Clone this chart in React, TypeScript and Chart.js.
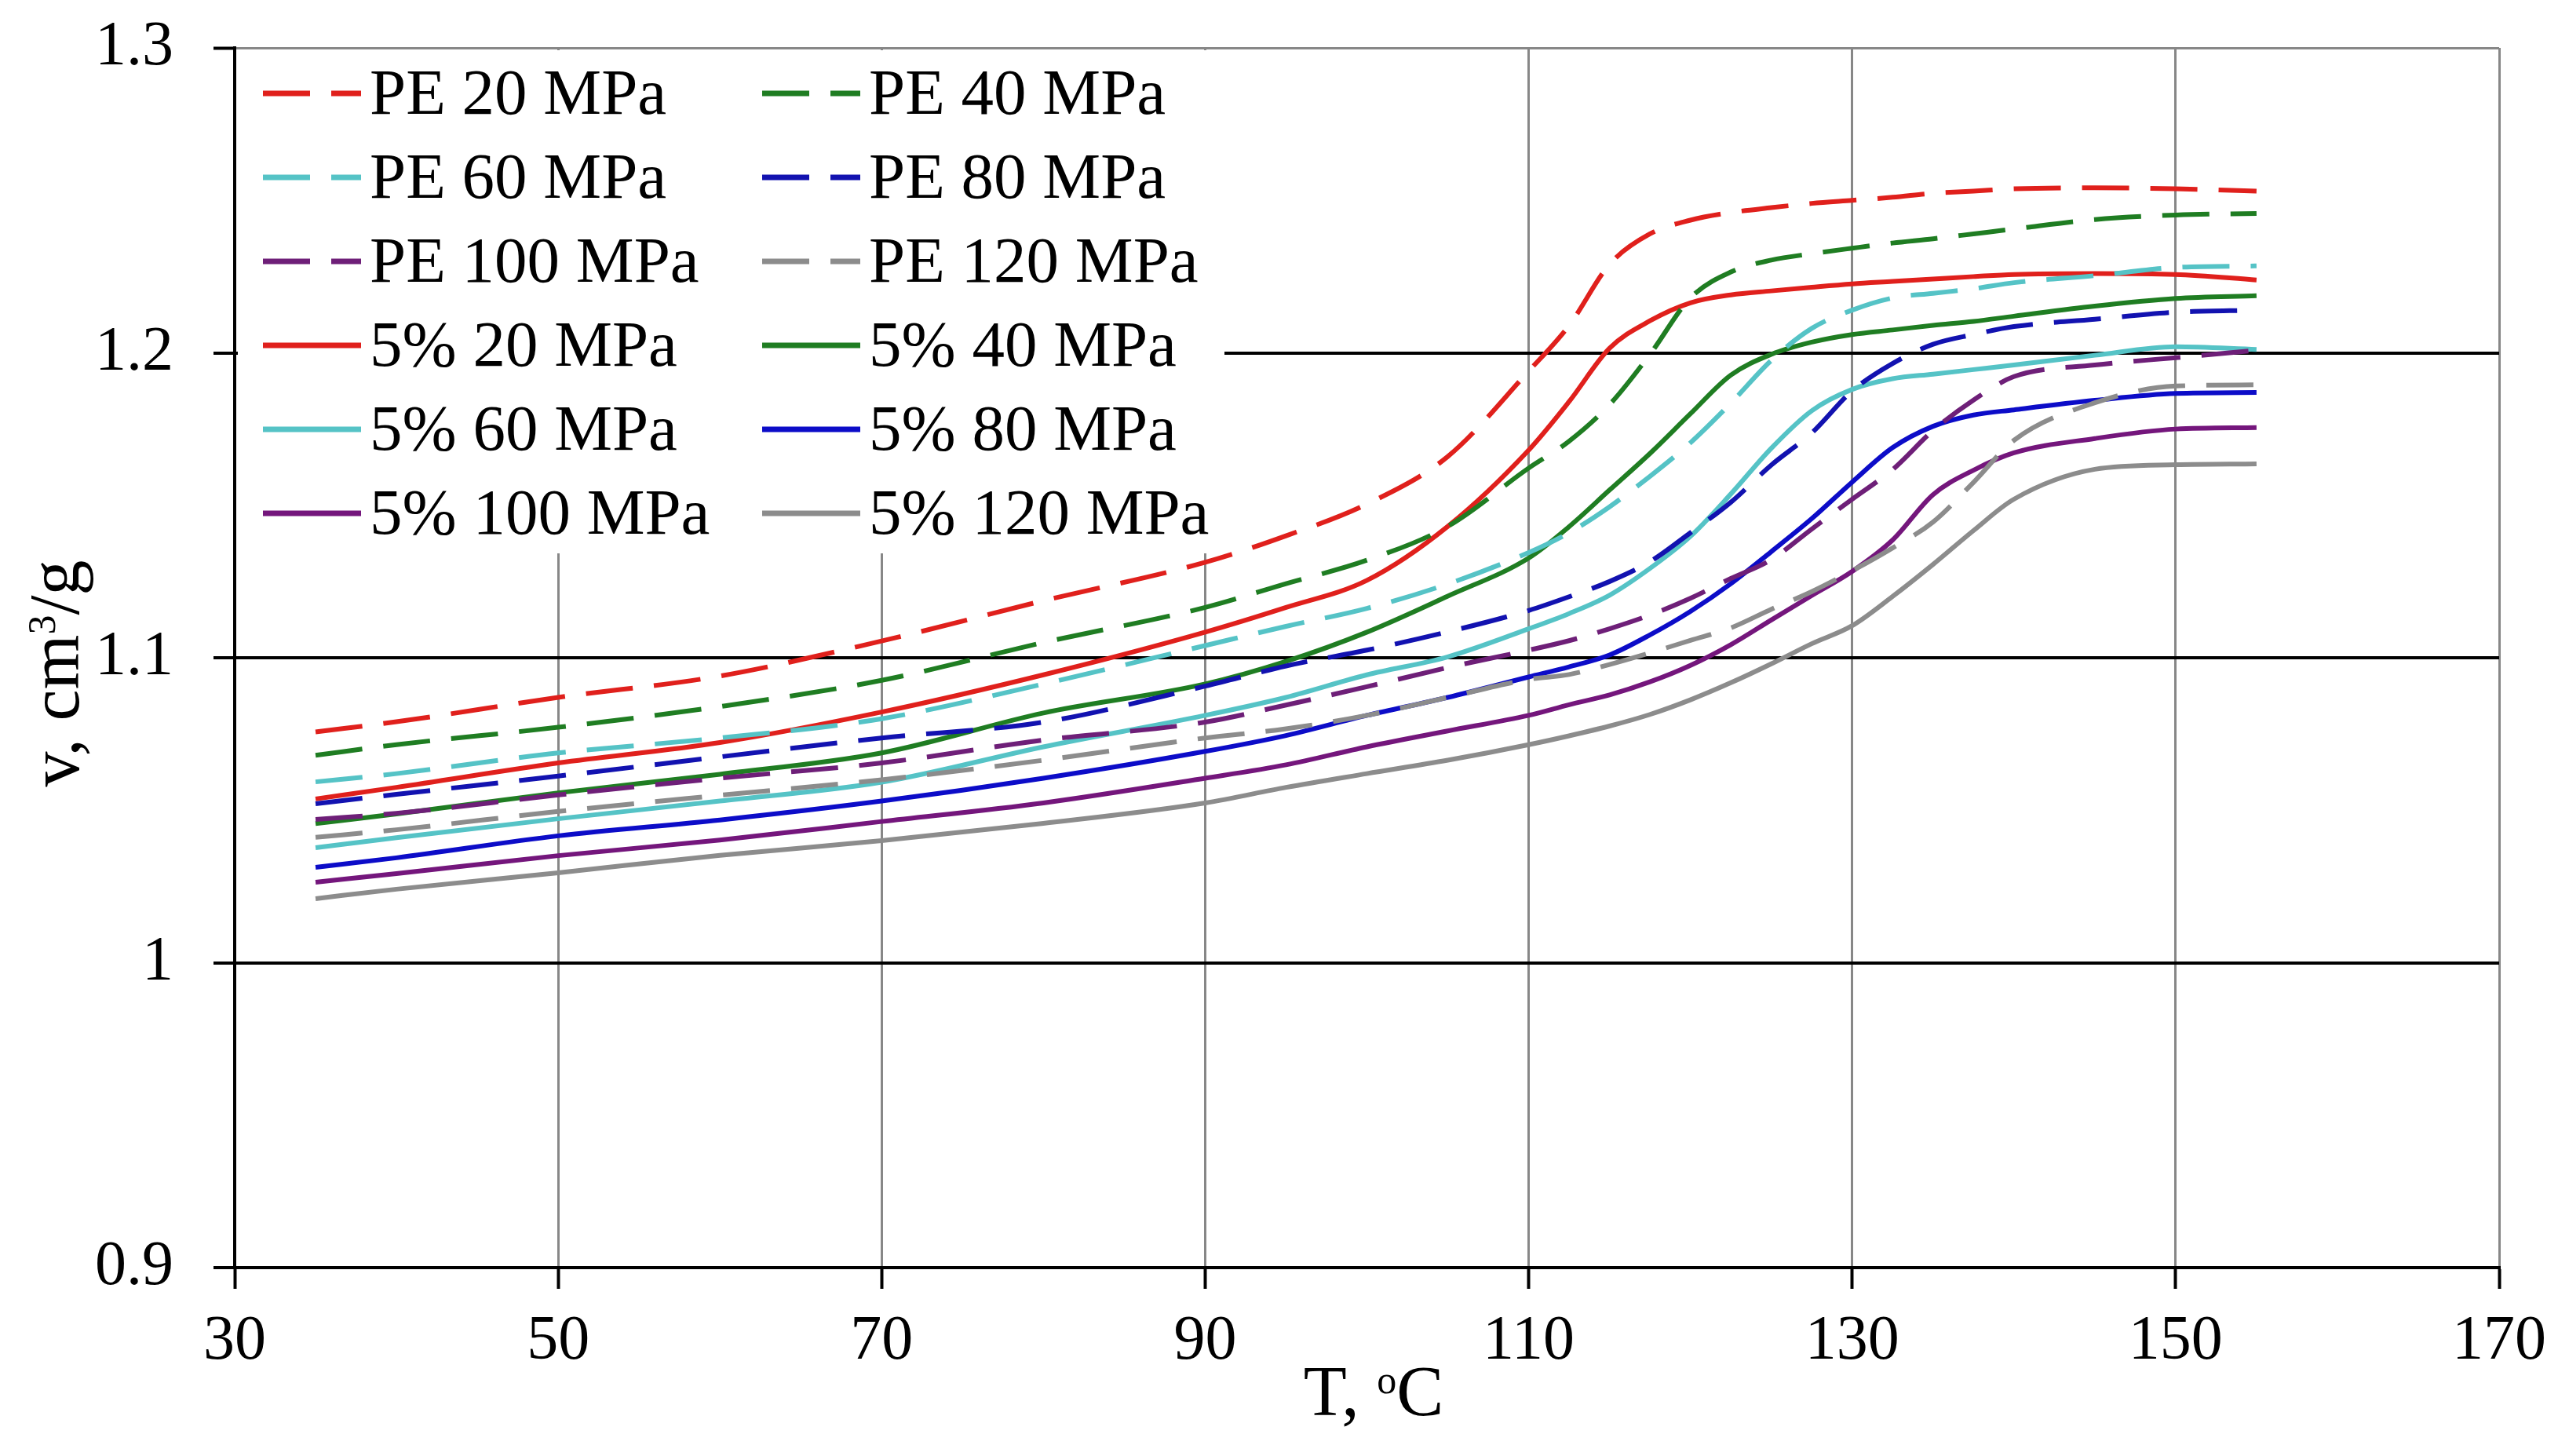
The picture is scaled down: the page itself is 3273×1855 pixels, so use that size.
import React, { useEffect, useRef } from 'react';
import { Chart, registerables } from 'chart.js';

Chart.register(...registerables);

// Temperature, °C (shared by every curve)
const temps = [35, 40, 50, 60, 70, 80, 90, 95, 100, 105, 110, 112.5, 115, 117.5, 120, 122.5, 125, 127.5, 130, 132.5, 135, 137.5, 140, 145, 150, 155];

// Specific volume, cm3/g — neat PE
const pe20 = [1.0757, 1.079, 1.087, 1.094, 1.1055, 1.1187, 1.1313, 1.14, 1.1504, 1.166, 1.194, 1.209, 1.229, 1.239, 1.2435, 1.246, 1.2476, 1.249, 1.25, 1.251, 1.2523, 1.253, 1.2538, 1.2541, 1.2538, 1.253];
const pe40 = [1.068, 1.0715, 1.0772, 1.084, 1.0926, 1.105, 1.1165, 1.1243, 1.132, 1.1431, 1.1622, 1.171, 1.183, 1.1995, 1.218, 1.2265, 1.2304, 1.2325, 1.2343, 1.236, 1.2374, 1.239, 1.2406, 1.2437, 1.2452, 1.2457];
const pe60 = [1.0593, 1.062, 1.0688, 1.0737, 1.08, 1.0914, 1.104, 1.1103, 1.1162, 1.1242, 1.1345, 1.141, 1.1495, 1.1595, 1.1705, 1.1835, 1.1975, 1.208, 1.214, 1.218, 1.2195, 1.221, 1.223, 1.2253, 1.228, 1.2285];
const pe80 = [1.0521, 1.0552, 1.0612, 1.0675, 1.0737, 1.0789, 1.0907, 1.0973, 1.1025, 1.1085, 1.1155, 1.12, 1.125, 1.1315, 1.141, 1.151, 1.1632, 1.1737, 1.1875, 1.1965, 1.2028, 1.206, 1.2086, 1.211, 1.2133, 1.214];
const pe100 = [1.047, 1.049, 1.055, 1.0605, 1.0655, 1.073, 1.0789, 1.0845, 1.0905, 1.0968, 1.1025, 1.1056, 1.1095, 1.114, 1.1195, 1.126, 1.1322, 1.1422, 1.152, 1.1617, 1.1745, 1.1845, 1.1922, 1.196, 1.1984, 1.2008];
const pe120 = [1.0411, 1.0436, 1.0496, 1.0549, 1.06, 1.0664, 1.0737, 1.0767, 1.0811, 1.087, 1.0929, 1.0945, 1.0978, 1.1016, 1.1057, 1.1098, 1.1159, 1.1217, 1.1285, 1.136, 1.1445, 1.1575, 1.1713, 1.1836, 1.1891, 1.1895];

// Specific volume, cm3/g — 5% composite
const c20 = [1.0537, 1.0575, 1.0655, 1.0722, 1.0822, 1.0944, 1.1084, 1.1165, 1.1254, 1.1431, 1.1681, 1.184, 1.2015, 1.2105, 1.2164, 1.219, 1.2203, 1.2215, 1.2226, 1.2234, 1.2242, 1.225, 1.2257, 1.226, 1.2257, 1.2239];
const c40 = [1.0456, 1.0488, 1.0557, 1.0618, 1.0688, 1.0819, 1.0914, 1.0988, 1.1084, 1.1202, 1.1327, 1.143, 1.155, 1.167, 1.18, 1.1927, 1.1995, 1.2035, 1.206, 1.2075, 1.209, 1.2103, 1.212, 1.2153, 1.2178, 1.2187];
const c60 = [1.0377, 1.041, 1.0472, 1.053, 1.0592, 1.0708, 1.0811, 1.087, 1.0944, 1.1003, 1.1095, 1.1145, 1.1205, 1.1293, 1.1398, 1.1537, 1.1687, 1.181, 1.188, 1.1915, 1.193, 1.1945, 1.196, 1.1992, 1.202, 1.2011];
const c80 = [1.0313, 1.0344, 1.0416, 1.0468, 1.053, 1.0605, 1.0693, 1.0745, 1.0811, 1.087, 1.0937, 1.097, 1.1009, 1.1075, 1.1152, 1.1243, 1.1348, 1.1456, 1.1576, 1.1689, 1.1759, 1.1796, 1.1813, 1.1844, 1.1867, 1.187];
const c100 = [1.0264, 1.0292, 1.0351, 1.0402, 1.0463, 1.0524, 1.0605, 1.0649, 1.0708, 1.076, 1.0811, 1.0846, 1.0878, 1.0921, 1.0975, 1.1043, 1.1124, 1.1204, 1.1283, 1.1386, 1.1535, 1.1615, 1.1672, 1.1719, 1.175, 1.1755];
const c120 = [1.021, 1.0241, 1.0295, 1.0352, 1.04, 1.0457, 1.0524, 1.0575, 1.062, 1.0664, 1.0715, 1.0744, 1.0776, 1.0814, 1.0862, 1.0918, 1.098, 1.1046, 1.1105, 1.1201, 1.1306, 1.1417, 1.152, 1.1618, 1.1633, 1.1636];

const seriesLabels = [
  'PE 20 MPa', 'PE 40 MPa', 'PE 60 MPa', 'PE 80 MPa', 'PE 100 MPa', 'PE 120 MPa',
  '5% 20 MPa', '5% 40 MPa', '5% 60 MPa', '5% 80 MPa', '5% 100 MPa', '5% 120 MPa',
];
const seriesValues = [pe20, pe40, pe60, pe80, pe100, pe120, c20, c40, c60, c80, c100, c120];

const xTicks = [30, 50, 70, 90, 110, 130, 150, 170];
const yTicks = [0.9, 1, 1.1, 1.2, 1.3];

const FONT = '"Liberation Serif", "Times New Roman", serif';
const DASH = [60, 27];

// one colour per pressure, solid/dashed decides PE vs 5%
const dashedColors = ['#e0201c', '#1f7d22', '#55c3c6', '#1212b0', '#6e1f78', '#8c8c8c'];
const solidColors = ['#e0201c', '#1f7d22', '#55c3c6', '#0c0cc8', '#74167c', '#8c8c8c'];

const insideLegend = {
  id: 'insideLegend',
  afterDatasetsDraw(chart: any) {
    const { ctx, chartArea } = chart;
    const left = chartArea.left;
    const top = chartArea.top;
    ctx.save();
    ctx.fillStyle = '#fff';
    ctx.fillRect(left + 4, top + 3, 1257, 641);
    chart.data.datasets.forEach((ds: any, i: number) => {
      const col = i % 2;
      const row = Math.floor(i / 2);
      const x0 = left + (col === 0 ? 36 : 672);
      const base = top + 84 + row * 107;
      ctx.beginPath();
      ctx.setLineDash(ds.borderDash || []);
      ctx.strokeStyle = ds.borderColor;
      ctx.lineWidth = 7;
      ctx.moveTo(x0, base - 26);
      ctx.lineTo(x0 + 125, base - 26);
      ctx.stroke();
      ctx.setLineDash([]);
      ctx.fillStyle = '#000';
      ctx.font = `83px ${FONT}`;
      ctx.textAlign = 'left';
      ctx.textBaseline = 'alphabetic';
      ctx.fillText(ds.label, x0 + 136, base);
    });
    ctx.restore();
  },
};

type Part = { t: string; size: number; dy: number };

function drawParts(ctx: CanvasRenderingContext2D, parts: Part[], cx: number, baseY: number) {
  const widths = parts.map((p) => {
    ctx.font = `${p.size}px ${FONT}`;
    return ctx.measureText(p.t).width;
  });
  let x = cx - widths.reduce((a, b) => a + b, 0) / 2;
  parts.forEach((p, i) => {
    ctx.font = `${p.size}px ${FONT}`;
    ctx.fillText(p.t, x, baseY + p.dy);
    x += widths[i];
  });
}

const axisTitles = {
  id: 'axisTitles',
  afterDraw(chart: any) {
    const { ctx } = chart;
    ctx.save();
    ctx.fillStyle = '#000';
    ctx.textAlign = 'left';
    ctx.textBaseline = 'alphabetic';
    drawParts(ctx, [
      { t: 'T, ', size: 90, dy: 0 },
      { t: 'o', size: 50, dy: -28 },
      { t: 'C', size: 90, dy: 0 },
    ], 1750, 1803);
    ctx.translate(100, 858);
    ctx.rotate(-Math.PI / 2);
    drawParts(ctx, [
      { t: 'v, cm', size: 90, dy: 0 },
      { t: '3', size: 50, dy: -30 },
      { t: '/g', size: 90, dy: 0 },
    ], 0, 0);
    ctx.restore();
  },
};

const App: React.FC = () => {
  const canvasRef = useRef<HTMLCanvasElement>(null);
  const chartRef = useRef<Chart | null>(null);

  useEffect(() => {
    document.body.style.margin = '0';
    document.body.style.overflow = 'hidden';
    if (!canvasRef.current) return;

    const datasets = seriesValues.map((vals, i) => {
      const dashed = i < 6;
      const color = dashed ? dashedColors[i % 6] : solidColors[i % 6];
      return {
        label: seriesLabels[i],
        data: temps.map((t, k) => ({ x: t, y: vals[k] })),
        borderColor: color,
        backgroundColor: color,
        borderWidth: 6,
        borderDash: dashed ? DASH : [],
        pointRadius: 0,
        fill: false,
        cubicInterpolationMode: 'monotone' as const,
      };
    });

    chartRef.current = new Chart(canvasRef.current, {
      type: 'line',
      data: { datasets },
      options: {
        animation: false,
        responsive: true,
        maintainAspectRatio: false,
        devicePixelRatio: 1,
        layout: { padding: { top: 61, right: 89, left: 0, bottom: 0 } },
        plugins: {
          legend: { display: false },
          tooltip: { enabled: false },
        },
        scales: {
          x: {
            type: 'linear',
            min: 30,
            max: 170,
            afterBuildTicks: (scale: any) => {
              scale.ticks = xTicks.map((v) => ({ value: v }));
            },
            afterFit: (scale: any) => {
              scale.height = 240;
              scale.paddingLeft = 0;
              scale.paddingRight = 0;
            },
            ticks: {
              color: '#000',
              font: { family: FONT, size: 80 },
              padding: 20,
              maxRotation: 0,
              autoSkip: false,
            },
            grid: {
              color: '#878787',
              lineWidth: 3,
              tickColor: '#000',
              tickWidth: 4,
              tickLength: 27,
            },
            border: { color: '#000', width: 4 },
          },
          y: {
            type: 'linear',
            min: 0.9,
            max: 1.3,
            afterBuildTicks: (scale: any) => {
              scale.ticks = yTicks.map((v) => ({ value: v }));
            },
            afterFit: (scale: any) => {
              scale.width = 299;
              scale.paddingTop = 0;
              scale.paddingBottom = 0;
            },
            ticks: {
              color: '#000',
              font: { family: FONT, size: 80 },
              padding: 51,
              callback: (v: any) => String(Number(Number(v).toFixed(1))),
            },
            grid: {
              color: (c: any) => (c.tick && c.tick.value > 1.25 ? '#878787' : '#000'),
              lineWidth: (c: any) => (c.tick && c.tick.value > 1.25 ? 3 : 4),
              tickColor: '#000',
              tickWidth: 4,
              tickLength: 27,
            },
            border: { color: '#000', width: 4 },
          },
        },
      },
      plugins: [insideLegend, axisTitles],
    });

    return () => {
      if (chartRef.current) {
        chartRef.current.destroy();
        chartRef.current = null;
      }
    };
  }, []);

  return (
    <div style={{ width: '3273px', height: '1855px', position: 'relative', background: '#fff' }}>
      <canvas ref={canvasRef} />
    </div>
  );
};

export default App;
